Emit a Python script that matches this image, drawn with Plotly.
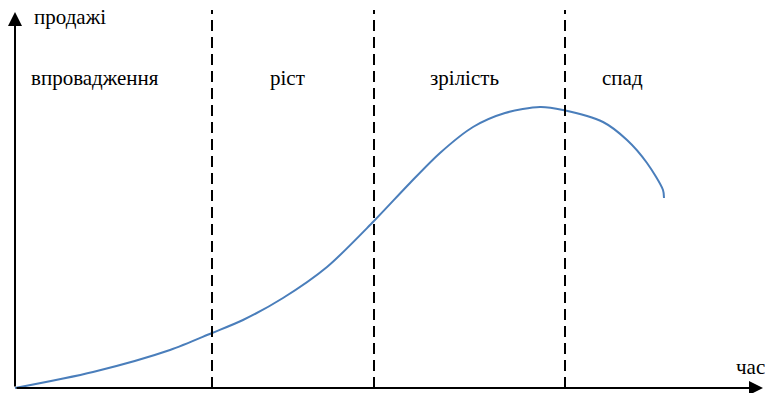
import plotly.graph_objects as go

# product life cycle curve (time, sales)
time = [0, 78, 155, 197, 228, 268, 312, 358, 395, 425, 458, 490, 525, 548, 588, 612, 632, 648, 649]
sales = [0, 16, 38, 55, 68, 90, 121, 166, 205, 235, 261, 275, 281, 278, 266, 248, 225, 198, 190]

# stage boundaries and labels
boundaries = [197, 359, 550]
stage_labels = ["впровадження", "ріст", "зрілість", "спад"]
stage_centers = [80, 272, 449, 607]
label_level = 310

x_title = "час"
y_title = "продажі"

FONT = "Liberation Serif, Times New Roman, serif"

fig = go.Figure()
fig.add_trace(go.Scatter(x=time, y=sales, mode="lines",
                         line=dict(color="#4a7ebb", width=2, shape="spline", smoothing=0.8),
                         hoverinfo="skip", showlegend=False))

for b in boundaries:
    fig.add_shape(type="line", x0=b, x1=b, y0=0, y1=378, xref="x", yref="y",
                  line=dict(color="black", width=2, dash="11px,6px"))

# axes with arrows
fig.add_annotation(x=748, y=0, ax=0, ay=0, xref="x", yref="y", axref="x", ayref="y",
                   showarrow=True, arrowhead=2, arrowsize=1.4, arrowwidth=2, arrowcolor="black", text="")
fig.add_annotation(x=0, y=376, ax=0, ay=0, xref="x", yref="y", axref="x", ayref="y",
                   showarrow=True, arrowhead=2, arrowsize=1.4, arrowwidth=2, arrowcolor="black", text="")

for c, t in zip(stage_centers, stage_labels):
    fig.add_annotation(x=c, y=label_level, text=t, showarrow=False,
                       font=dict(family=FONT, size=21, color="black"))

fig.add_annotation(x=55, y=371, text=y_title, showarrow=False,
                   font=dict(family=FONT, size=21, color="black"))
fig.add_annotation(x=735, y=21, text=x_title, showarrow=False,
                   font=dict(family=FONT, size=21, color="black"))

fig.update_layout(width=765, height=393, margin=dict(l=0, r=0, t=0, b=0),
                  paper_bgcolor="white", plot_bgcolor="white",
                  xaxis=dict(range=[-15, 750], visible=False, fixedrange=True),
                  yaxis=dict(range=[-5, 388], visible=False, fixedrange=True))

fig.write_html("out.html", config={"displayModeBar": False},
               post_script="document.body.style.margin='0px';document.body.style.overflow='hidden';")
